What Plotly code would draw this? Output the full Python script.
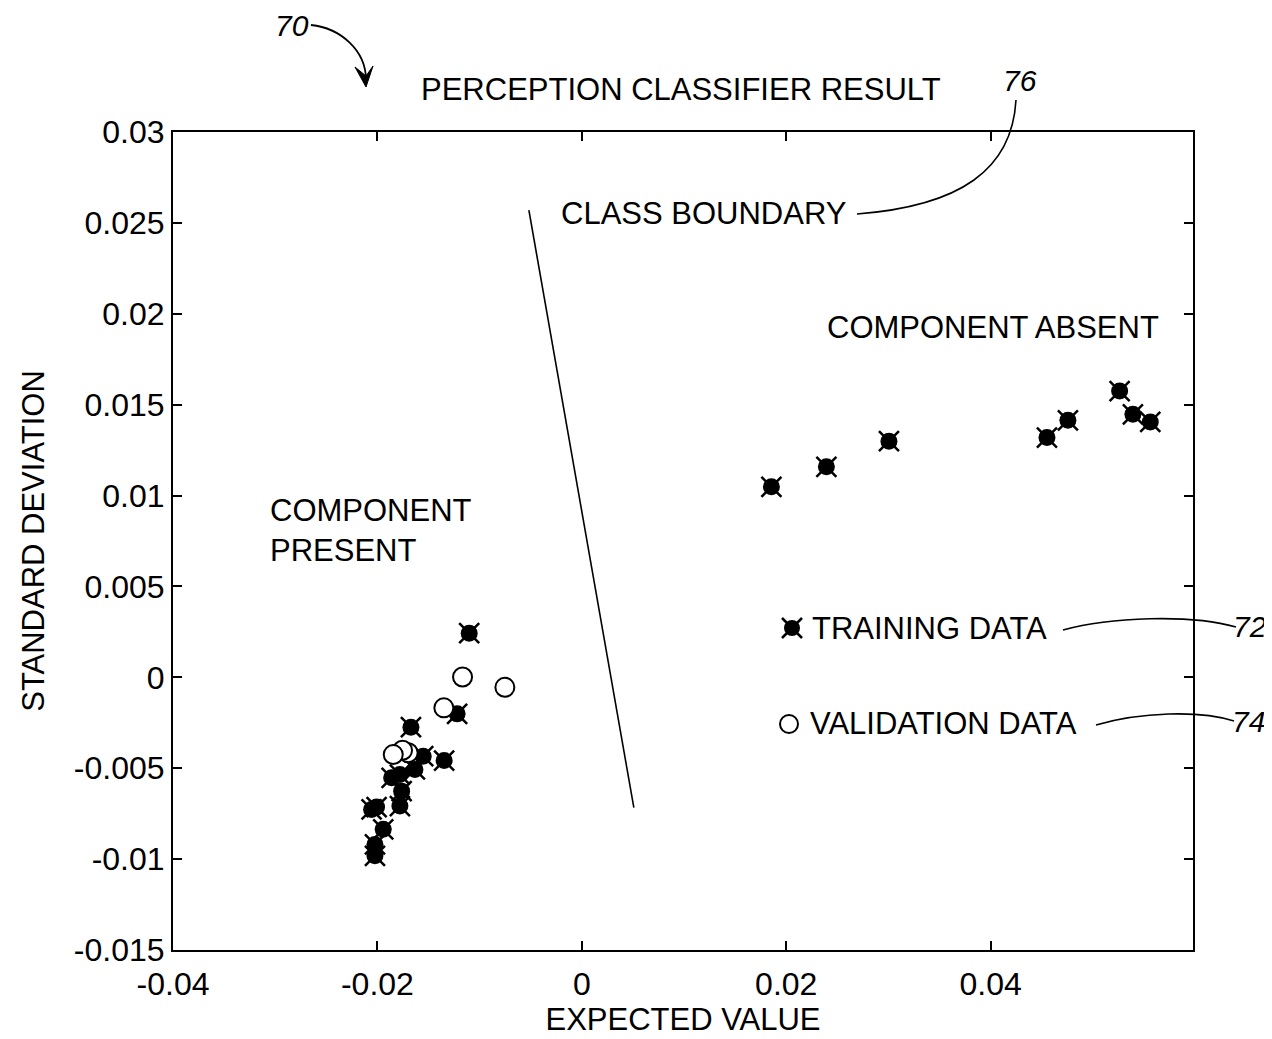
import plotly.graph_objects as go

# ---------------- data ----------------
train_x = [0.01855, 0.02393, 0.03005, 0.04551, 0.04756, 0.05262, 0.05392, 0.05562,
           -0.01102, -0.01220, -0.01672, -0.01347, -0.01552, -0.01633, -0.01780,
           -0.01861, -0.01763, -0.01780, -0.02008, -0.02057, -0.01943, -0.02024, -0.02024]
train_y = [0.01048, 0.01158, 0.01299, 0.01319, 0.01414, 0.01575, 0.01447, 0.01405,
           0.00243, -0.00201, -0.00274, -0.00458, -0.00434, -0.00507, -0.00535,
           -0.00553, -0.00626, -0.00708, -0.00714, -0.00727, -0.00836, -0.00919, -0.00982]

valid_x = [-0.01167, -0.00753, -0.01350, -0.01699, -0.01754, -0.01845]
valid_y = [0.00002, -0.00055, -0.00168, -0.00415, -0.00401, -0.00425]

boundary_x = [-0.00518, 0.00509]
boundary_y = [0.02570, -0.00717]

x_tickvals = [-0.04, -0.02, 0, 0.02, 0.04]
x_ticktext = ["-0.04", "-0.02", "0", "0.02", "0.04"]
y_tickvals = [0.03, 0.025, 0.02, 0.015, 0.01, 0.005, 0, -0.005, -0.01, -0.015]
y_ticktext = ["0.03", "0.025", "0.02", "0.015", "0.01", "0.005", "0", "-0.005", "-0.01", "-0.015"]

legend_labels = ["TRAINING DATA", "VALIDATION DATA"]

# ---------------- layout helpers ----------------
OFF = 8                      # page body margin offset
W, H = 1264, 1031
L, R, T, B = 173, 1193, 132, 950   # plot area in screen pixels
FONT = "Liberation Sans, Arial, sans-serif"
FS = 31
TFS = 32


def px(x):
    return (x - L) / (R - L)


def py(y):
    return (B - y) / (B - T)


fig = go.Figure()

# class boundary
fig.add_trace(go.Scatter(x=boundary_x, y=boundary_y, mode="lines",
                         line=dict(color="black", width=1.6), showlegend=False,
                         hoverinfo="skip"))

# training data: filled circle + x spikes
fig.add_trace(go.Scatter(x=train_x, y=train_y, mode="markers",
                         marker=dict(symbol="x-thin", size=20, color="black",
                                     line=dict(color="black", width=2.5)),
                         showlegend=False))
fig.add_trace(go.Scatter(x=train_x, y=train_y, mode="markers",
                         marker=dict(symbol="circle", size=17, color="black",
                                     line=dict(width=0)),
                         showlegend=False))

# validation data
fig.add_trace(go.Scatter(x=valid_x, y=valid_y, mode="markers",
                         marker=dict(symbol="circle", size=19, color="white",
                                     line=dict(color="black", width=2)),
                         showlegend=False))

# legend glyphs on an overlay axis in paper-like units
leg_pos = [(px(792), py(628)), (px(789), py(724))]
fig.add_trace(go.Scatter(x=[leg_pos[0][0]], y=[leg_pos[0][1]], mode="markers",
                         xaxis="x2", yaxis="y2",
                         marker=dict(symbol="x-thin", size=20, color="black",
                                     line=dict(color="black", width=2.5)),
                         showlegend=False, hoverinfo="skip"))
fig.add_trace(go.Scatter(x=[leg_pos[0][0]], y=[leg_pos[0][1]], mode="markers",
                         xaxis="x2", yaxis="y2",
                         marker=dict(symbol="circle", size=16, color="black"),
                         showlegend=False, hoverinfo="skip"))
fig.add_trace(go.Scatter(x=[leg_pos[1][0]], y=[leg_pos[1][1]], mode="markers",
                         xaxis="x2", yaxis="y2",
                         marker=dict(symbol="circle", size=18, color="white",
                                     line=dict(color="black", width=2)),
                         showlegend=False, hoverinfo="skip"))

ann = []


def text(x, y, s, xanchor="center", size=FS, align="center"):
    ann.append(dict(x=px(x), y=py(y), xref="paper", yref="paper", text=s,
                    showarrow=False, xanchor=xanchor, yanchor="middle", align=align,
                    font=dict(family=FONT, size=size, color="black")))


text(681, 89, "PERCEPTION CLASSIFIER RESULT")
text(703, 214, "CLASS BOUNDARY")
text(993, 327, "COMPONENT ABSENT")
text(268, 530, "COMPONENT<br>PRESENT", xanchor="left", align="left")
text(810, 628, legend_labels[0], xanchor="left")
text(808, 723, legend_labels[1], xanchor="left")
text(292, 25, "<i>70</i>", size=30)
text(1020, 81, "<i>76</i>", size=30)
text(1250, 626, "<i>72</i>", size=30)
text(1248, 721, "<i>74</i>", size=30)

fig.update_layout(annotations=ann)


def P(x, y):
    return f"{px(x):.5f},{py(y):.5f}"


shapes = [
    # leader 76
    dict(type="path", xref="paper", yref="paper",
         path=f"M {P(857,214)} C {P(960,206)} {P(1012,170)} {P(1016,100)}",
         line=dict(color="black", width=1.6)),
    # leader 72
    dict(type="path", xref="paper", yref="paper",
         path=f"M {P(1063,630)} C {P(1110,617)} {P(1190,614)} {P(1236,627)}",
         line=dict(color="black", width=1.6)),
    # leader 74
    dict(type="path", xref="paper", yref="paper",
         path=f"M {P(1096,725)} C {P(1140,712)} {P(1200,710)} {P(1234,721)}",
         line=dict(color="black", width=1.6)),
    # arrow 70 curve
    dict(type="path", xref="paper", yref="paper",
         path=f"M {P(311,25)} C {P(340,28)} {P(366,50)} {P(366,80)}",
         line=dict(color="black", width=1.8)),
    # arrowhead 70
    dict(type="path", xref="paper", yref="paper",
         path=f"M {P(355,67)} L {P(366,87)} L {P(373,66)} L {P(366,76)} Z",
         fillcolor="black", line=dict(color="black", width=1)),
]
fig.update_layout(shapes=shapes)

axis_common = dict(showline=True, linecolor="black", linewidth=2, mirror="ticks",
                   ticks="inside", ticklen=9, tickwidth=2, tickcolor="black",
                   showgrid=False, zeroline=False, automargin=False,
                   tickfont=dict(family=FONT, size=TFS, color="black"))

fig.update_layout(
    width=W, height=H,
    margin=dict(l=L - OFF, r=W - (R - OFF), t=T - OFF, b=H - (B - OFF), pad=0,
                autoexpand=False),
    paper_bgcolor="white", plot_bgcolor="white",
    font=dict(family=FONT, size=FS, color="black"),
    xaxis=dict(range=[-0.04, 0.0598], tickvals=x_tickvals, ticktext=x_ticktext,
               ticklabelstandoff=5,
               title=dict(text="EXPECTED VALUE", standoff=7,
                          font=dict(family=FONT, size=FS, color="black")),
               **axis_common),
    yaxis=dict(range=[-0.015, 0.03], tickvals=y_tickvals, ticktext=y_ticktext,
               title=dict(text="STANDARD DEVIATION", standoff=20,
                          font=dict(family=FONT, size=FS, color="black")),
               **axis_common),
    xaxis2=dict(range=[0, 1], overlaying="x", visible=False, fixedrange=True),
    yaxis2=dict(range=[0, 1], overlaying="y", visible=False, fixedrange=True),
    showlegend=False,
)

fig.write_html("out.html")
